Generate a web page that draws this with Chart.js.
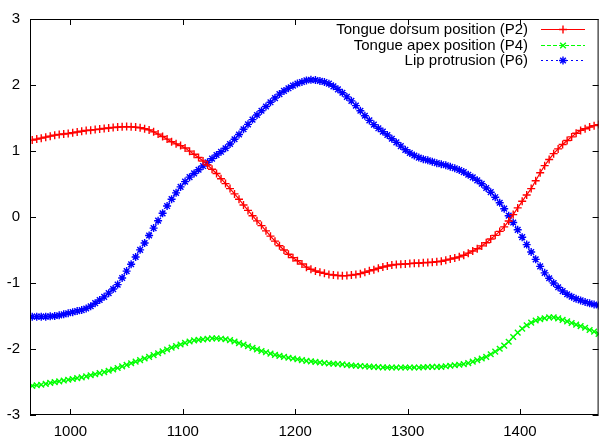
<!DOCTYPE html>
<html>
<head>
<meta charset="utf-8">
<script src="https://cdn.jsdelivr.net/npm/chart.js@4.4.1/dist/chart.umd.min.js"></script>
<style>
  html, body { margin: 0; padding: 0; background: #fff; }
  canvas { display: block; }
</style>
</head>
<body>
<canvas id="myChart" width="604" height="443"></canvas>
<script>
let times = [966, 970, 974, 978, 982, 986, 990, 994, 998, 1002, 1006, 1010, 1014, 1018, 1022, 1026, 1030, 1034, 1038, 1042,
  1046, 1050, 1054, 1058, 1062, 1066, 1070, 1074, 1078, 1082, 1086, 1090, 1094, 1098, 1102, 1106, 1110, 1114, 1118, 1122,
  1126, 1130, 1134, 1138, 1142, 1146, 1150, 1154, 1158, 1162, 1166, 1170, 1174, 1178, 1182, 1186, 1190, 1194, 1198, 1202,
  1206, 1210, 1214, 1218, 1222, 1226, 1230, 1234, 1238, 1242, 1246, 1250, 1254, 1258, 1262, 1266, 1270, 1274, 1278, 1282,
  1286, 1290, 1294, 1298, 1302, 1306, 1310, 1314, 1318, 1322, 1326, 1330, 1334, 1338, 1342, 1346, 1350, 1354, 1358, 1362,
  1366, 1370, 1374, 1378, 1382, 1386, 1390, 1394, 1398, 1402, 1406, 1410, 1414, 1418, 1422, 1426, 1430, 1434, 1438, 1442,
  1446, 1450, 1454, 1458, 1462, 1466, 1470];

// Tongue dorsum position (P2)
let dorsum = [1.165, 1.18, 1.195, 1.21, 1.225, 1.24, 1.25, 1.258, 1.266, 1.276, 1.288, 1.30, 1.31, 1.316, 1.324, 1.332, 1.34, 1.348, 1.356, 1.362,
  1.366, 1.37, 1.366, 1.362, 1.352, 1.336, 1.32, 1.29, 1.256, 1.22, 1.18, 1.14, 1.108, 1.082, 1.046, 0.998, 0.95, 0.902, 0.848, 0.788,
  0.724, 0.66, 0.58, 0.506, 0.43, 0.35, 0.27, 0.182, 0.10, 0.02, -0.058, -0.13, -0.21, -0.29, -0.366, -0.436, -0.50, -0.564, -0.616, -0.664,
  -0.712, -0.76, -0.792, -0.818, -0.838, -0.854, -0.87, -0.878, -0.886, -0.89, -0.888, -0.88, -0.872, -0.858, -0.838, -0.816, -0.80, -0.776, -0.758, -0.742,
  -0.728, -0.72, -0.716, -0.712, -0.706, -0.70, -0.70, -0.692, -0.69, -0.686, -0.678, -0.67, -0.654, -0.638, -0.622, -0.604, -0.58, -0.548, -0.516, -0.48,
  -0.438, -0.39, -0.334, -0.278, -0.218, -0.15, -0.06, 0.036, 0.138, 0.238, 0.334, 0.43, 0.55, 0.67, 0.778, 0.872, 0.96, 1.032, 1.098, 1.158,
  1.214, 1.27, 1.312, 1.338, 1.362, 1.384, 1.40];

// Tongue apex position (P4)
let apex = [-2.558, -2.55, -2.542, -2.528, -2.514, -2.502, -2.49, -2.478, -2.466, -2.454, -2.442, -2.43, -2.414, -2.398, -2.382, -2.366, -2.35, -2.33, -2.31, -2.288,
  -2.264, -2.24, -2.216, -2.192, -2.168, -2.144, -2.12, -2.092, -2.064, -2.036, -2.008, -1.98, -1.956, -1.932, -1.908, -1.886, -1.87, -1.862, -1.854, -1.846,
  -1.84, -1.84, -1.844, -1.852, -1.866, -1.886, -1.91, -1.934, -1.958, -1.982, -2.006, -2.03, -2.05, -2.07, -2.088, -2.104, -2.12, -2.132, -2.144, -2.156,
  -2.168, -2.18, -2.188, -2.196, -2.204, -2.212, -2.22, -2.224, -2.228, -2.234, -2.242, -2.25, -2.254, -2.258, -2.262, -2.266, -2.27, -2.274, -2.278, -2.28,
  -2.28, -2.28, -2.28, -2.28, -2.28, -2.28, -2.28, -2.276, -2.272, -2.27, -2.27, -2.27, -2.262, -2.254, -2.246, -2.238, -2.23, -2.214, -2.192, -2.168,
  -2.144, -2.12, -2.08, -2.04, -1.996, -1.948, -1.89, -1.818, -1.752, -1.692, -1.64, -1.60, -1.568, -1.548, -1.534, -1.52, -1.52, -1.536, -1.558, -1.582,
  -1.606, -1.63, -1.654, -1.678, -1.712, -1.736, -1.77];

// Lip protrusion (P6)
let lip = [-1.51, -1.51, -1.51, -1.51, -1.505, -1.50, -1.49, -1.475, -1.458, -1.442, -1.426, -1.41, -1.386, -1.352, -1.306, -1.258, -1.21, -1.154, -1.092, -1.024,
  -0.924, -0.82, -0.716, -0.606, -0.498, -0.394, -0.28, -0.168, -0.056, 0.056, 0.166, 0.27, 0.366, 0.456, 0.536, 0.604, 0.66, 0.716, 0.772, 0.828,
  0.884, 0.94, 0.988, 1.042, 1.106, 1.178, 1.25, 1.33, 1.404, 1.476, 1.546, 1.61, 1.674, 1.738, 1.802, 1.862, 1.91, 1.95, 1.99, 2.022,
  2.046, 2.07, 2.078, 2.074, 2.062, 2.046, 2.02, 1.98, 1.934, 1.882, 1.82, 1.76, 1.688, 1.61, 1.534, 1.464, 1.40, 1.344, 1.294, 1.242,
  1.186, 1.13, 1.074, 1.018, 0.97, 0.932, 0.90, 0.876, 0.858, 0.838, 0.816, 0.80, 0.784, 0.762, 0.738, 0.712, 0.68, 0.64, 0.60, 0.556,
  0.504, 0.44, 0.376, 0.30, 0.216, 0.126, 0.02, -0.084, -0.194, -0.306, -0.418, -0.53, -0.642, -0.748, -0.846, -0.928, -1.00, -1.064, -1.122, -1.17,
  -1.208, -1.24, -1.264, -1.288, -1.308, -1.326, -1.34];

let xTicks = [1000, 1100, 1200, 1300, 1400];
let yTicks = [-3, -2, -1, 0, 1, 2, 3];
let labels = ['Tongue dorsum position (P2)', 'Tongue apex position (P4)', 'Lip protrusion (P6)'];
let colorHex = ['#ff0000', '#00ff00', '#0000ff'];
let markers = ['cross', 'crossRot', 'star'];
let dashes = [[], [4, 2], [2, 3]];

let fontFamily = '"Liberation Sans", Arial, Helvetica, sans-serif';

function points(ys) {
  return times.map((t, i) => ({ x: t, y: ys[i] }));
}

function makeSet(i, ys) {
  return {
    label: labels[i],
    data: points(ys),
    borderColor: colorHex[i],
    backgroundColor: colorHex[i],
    borderWidth: 1.2,
    borderDash: dashes[i],
    pointStyle: markers[i],
    pointRadius: 4,
    pointBorderWidth: 1.4,
    pointBorderColor: colorHex[i],
    tension: 0
  };
}

// gnuplot-like marker for the key
function drawMarker(ctx, style, x, y, r) {
  ctx.beginPath();
  if (style === 'cross' || style === 'star') {
    ctx.moveTo(x - r, y); ctx.lineTo(x + r, y);
    ctx.moveTo(x, y - r); ctx.lineTo(x, y + r);
  }
  if (style === 'crossRot' || style === 'star') {
    let d = r * Math.cos(Math.PI / 4);
    ctx.moveTo(x - d, y - d); ctx.lineTo(x + d, y + d);
    ctx.moveTo(x - d, y + d); ctx.lineTo(x + d, y - d);
  }
  ctx.stroke();
}

let gnuplotFrame = {
  id: 'gnuplotFrame',
  afterDraw(chart) {
    let ctx = chart.ctx;
    let a = chart.chartArea;
    let xs = chart.scales.x;
    let ys = chart.scales.y;
    ctx.save();
    ctx.strokeStyle = '#000';
    ctx.lineWidth = 1;
    ctx.setLineDash([]);
    ctx.strokeRect(a.left + 0.5, a.top + 0.5, a.right - a.left - 1, a.bottom - a.top - 1);

    // inward ticks, mirrored
    ctx.beginPath();
    xTicks.forEach(v => {
      let px = Math.round(xs.getPixelForValue(v)) + 0.5;
      ctx.moveTo(px, a.bottom); ctx.lineTo(px, a.bottom - 6);
      ctx.moveTo(px, a.top); ctx.lineTo(px, a.top + 6);
    });
    yTicks.forEach(v => {
      let py = Math.round(ys.getPixelForValue(v)) + 0.5;
      ctx.moveTo(a.left, py); ctx.lineTo(a.left + 6, py);
      ctx.moveTo(a.right, py); ctx.lineTo(a.right - 6, py);
    });
    ctx.stroke();

    // key: text then sample
    ctx.font = '15px ' + fontFamily;
    ctx.textAlign = 'right';
    ctx.textBaseline = 'middle';
    labels.forEach((lab, i) => {
      let y = Math.round(29 + i * 15.5) + 0.5;
      ctx.fillStyle = '#000';
      ctx.fillText(lab, 528, y);
      ctx.strokeStyle = colorHex[i];
      ctx.lineWidth = 1.2;
      ctx.setLineDash(dashes[i]);
      ctx.beginPath();
      ctx.moveTo(541, y);
      ctx.lineTo(585, y);
      ctx.stroke();
      ctx.setLineDash([]);
      ctx.lineWidth = 1.4;
      drawMarker(ctx, markers[i], 563, y, 4);
    });
    ctx.restore();
  }
};

let ctx1 = document.getElementById('myChart').getContext('2d');
let myChart = new Chart(ctx1, {
  type: 'line',
  data: {
    datasets: [makeSet(0, dorsum), makeSet(1, apex), makeSet(2, lip)]
  },
  options: {
    responsive: false,
    animation: false,
    devicePixelRatio: 1,
    layout: {
      padding: { top: 14, right: 2, left: 0, bottom: 0 }
    },
    plugins: {
      legend: { display: false },
      tooltip: { enabled: false }
    },
    scales: {
      x: {
        type: 'linear',
        min: 964,
        max: 1470,
        grid: { display: false, drawTicks: false },
        border: { display: false },
        afterBuildTicks: (scale) => {
          scale.ticks = xTicks.map(v => ({ value: v }));
        },
        afterFit: (scale) => { scale.height = 28; },
        ticks: {
          color: '#000',
          padding: 8,
          maxRotation: 0,
          font: { family: fontFamily, size: 15 },
          callback: (value) => String(value)
        }
      },
      y: {
        type: 'linear',
        min: -3,
        max: 3,
        grid: { display: false, drawTicks: false },
        border: { display: false },
        afterBuildTicks: (scale) => {
          scale.ticks = yTicks.map(v => ({ value: v }));
        },
        afterFit: (scale) => { scale.width = 30; },
        ticks: {
          color: '#000',
          padding: 10,
          font: { family: fontFamily, size: 15 },
          callback: (value) => String(value)
        }
      }
    }
  },
  plugins: [gnuplotFrame]
});
</script>
</body>
</html>
